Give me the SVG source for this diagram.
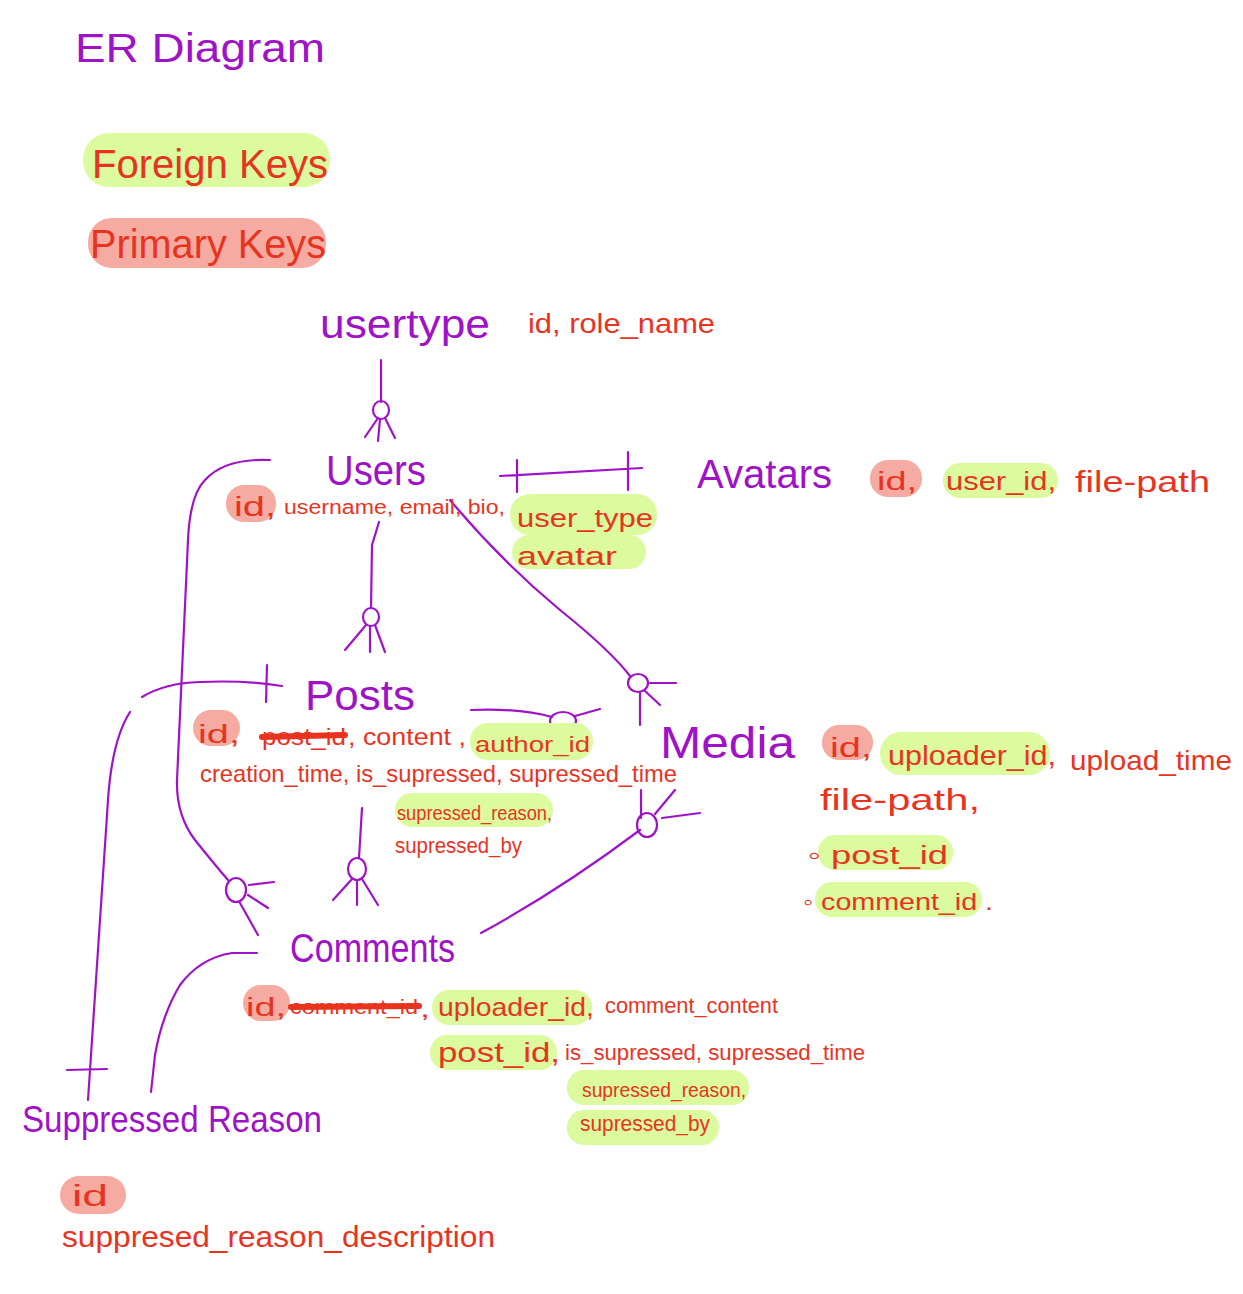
<svg xmlns="http://www.w3.org/2000/svg" width="1243" height="1294" viewBox="0 0 1243 1294">
<style>
.ent{font-family:"Liberation Sans",Arial,sans-serif;fill:#a012c8;}
.att{font-family:"Liberation Sans",Arial,sans-serif;fill:#e8341f;}
.fk{fill:#dbfb9e;}
.pk{fill:#f5aba1;}
.ln{fill:none;stroke:#a012c8;stroke-width:2.2;stroke-linecap:round;stroke-linejoin:round;}
.strike{fill:none;stroke:#e8341f;stroke-width:6;stroke-linecap:round;}
</style>
<rect width="1243" height="1294" fill="#ffffff"/>

<g id="title">
<text class="ent" x="75" y="62" font-size="40" textLength="250" lengthAdjust="spacingAndGlyphs">ER  Diagram</text>
</g>

<g id="legend">
<rect class="fk" x="83" y="133" width="247" height="54" rx="26"/>
<text class="att" x="92" y="178" font-size="40" textLength="236" lengthAdjust="spacingAndGlyphs">Foreign Keys</text>
<rect class="pk" x="88" y="218" width="238" height="50" rx="24"/>
<text class="att" x="90" y="258" font-size="40" textLength="236" lengthAdjust="spacingAndGlyphs">Primary Keys</text>
</g>

<g id="connectors">
<path class="ln" d="M381 360 L381 402"/>
<ellipse class="ln" cx="381" cy="410" rx="8" ry="9"/>
<path class="ln" d="M378 418 L365 437 M380 419 L378 441 M385 418 L395 438"/>
<path class="ln" d="M500 476 L642 468 M517 460 L517 492 M628 452 L628 490"/>
<path class="ln" d="M379 522 L372 545 L371 608"/>
<ellipse class="ln" cx="371" cy="617" rx="8" ry="9"/>
<path class="ln" d="M366 625 L345 650 M370 626 L370 652 M375 625 L385 652"/>
<path class="ln" d="M450 500 Q500 560 560 610 Q610 650 630 676"/>
<ellipse class="ln" cx="638" cy="683" rx="10" ry="9"/>
<path class="ln" d="M650 683 L676 683 M645 691 L660 705 M640 693 L640 725"/>
<path class="ln" d="M270 460 Q225 458 205 480 Q190 495 188 540 L177 780 Q176 815 195 840 Q215 865 228 880"/>
<ellipse class="ln" cx="236" cy="890" rx="10" ry="12"/>
<path class="ln" d="M249 885 L274 882 M248 895 L268 908 M240 903 L258 935"/>
<path class="ln" d="M142 697 Q165 683 200 682 Q245 680 282 686 M267 665 L266 702"/>
<path class="ln" d="M130 712 Q112 740 108 800 L88 1100 M67 1070 L107 1069"/>
<path class="ln" d="M471 710 Q520 708 552 717"/>
<ellipse class="ln" cx="563" cy="721" rx="13" ry="9"/>
<path class="ln" d="M575 716 L600 709 M573 726 L587 750 M580 748 L588 752"/>
<path class="ln" d="M362 808 L359 858"/>
<ellipse class="ln" cx="357" cy="869" rx="9" ry="11"/>
<path class="ln" d="M352 879 L333 900 M357 880 L357 905 M362 879 L378 905"/>
<path class="ln" d="M481 933 Q560 890 640 830"/>
<ellipse class="ln" cx="647" cy="825" rx="10" ry="12"/>
<path class="ln" d="M641 790 L641 818 M675 790 L655 814 M662 818 L700 813"/>
<path class="ln" d="M257 953 L232 953 Q200 958 180 985 Q162 1015 155 1055 L151 1092"/>
</g>

<g id="usertype">
<text class="ent" x="320" y="338" font-size="40" textLength="170" lengthAdjust="spacingAndGlyphs">usertype</text>
<text class="att" x="528" y="333" font-size="28" textLength="187" lengthAdjust="spacingAndGlyphs">id, role_name</text>
</g>

<g id="users">
<text class="ent" x="326" y="485" font-size="42" textLength="100" lengthAdjust="spacingAndGlyphs">Users</text>
<rect class="pk" x="226" y="485" width="50" height="37" rx="18"/>
<rect class="fk" x="510" y="494" width="147" height="41" rx="20"/>
<rect class="fk" x="512" y="535" width="134" height="34" rx="17"/>
<text class="att" x="234" y="516" font-size="28" textLength="42" lengthAdjust="spacingAndGlyphs">id,</text>
<text class="att" x="284" y="514" font-size="20" textLength="221" lengthAdjust="spacingAndGlyphs">username, email, bio,</text>
<text class="att" x="517" y="527" font-size="26" textLength="136" lengthAdjust="spacingAndGlyphs">user_type</text>
<text class="att" x="517" y="565" font-size="26" textLength="100" lengthAdjust="spacingAndGlyphs">avatar</text>
</g>

<g id="avatars">
<text class="ent" x="697" y="488" font-size="40" textLength="135" lengthAdjust="spacingAndGlyphs">Avatars</text>
<rect class="pk" x="870" y="460" width="52" height="37" rx="18"/>
<rect class="fk" x="943" y="463" width="115" height="35" rx="17"/>
<text class="att" x="877" y="490" font-size="26" textLength="40" lengthAdjust="spacingAndGlyphs">id,</text>
<text class="att" x="946" y="490" font-size="26" textLength="110" lengthAdjust="spacingAndGlyphs">user_id,</text>
<text class="att" x="1075" y="492" font-size="30" textLength="135" lengthAdjust="spacingAndGlyphs">file-path</text>
</g>

<g id="posts">
<text class="ent" x="305" y="710" font-size="42" textLength="110" lengthAdjust="spacingAndGlyphs">Posts</text>
<rect class="pk" x="193" y="710" width="47" height="36" rx="18"/>
<rect class="fk" x="470" y="723" width="123" height="37" rx="18"/>
<rect class="fk" x="395" y="793" width="158" height="34" rx="17"/>
<text class="att" x="198" y="743" font-size="26" textLength="42" lengthAdjust="spacingAndGlyphs">id,</text>
<text class="att" x="262" y="745" font-size="24" textLength="84" lengthAdjust="spacingAndGlyphs">post_id</text>
<path class="strike" d="M262 737 L345 735"/>
<text class="att" x="348" y="745" font-size="24" textLength="118" lengthAdjust="spacingAndGlyphs">, content ,</text>
<text class="att" x="475" y="752" font-size="22" textLength="115" lengthAdjust="spacingAndGlyphs">author_id</text>
<text class="att" x="200" y="782" font-size="24" textLength="477" lengthAdjust="spacingAndGlyphs">creation_time, is_supressed, supressed_time</text>
<text class="att" x="397" y="820" font-size="21" textLength="155" lengthAdjust="spacingAndGlyphs">supressed_reason,</text>
<text class="att" x="395" y="853" font-size="22" textLength="127" lengthAdjust="spacingAndGlyphs">supressed_by</text>
</g>

<g id="media">
<text class="ent" x="660" y="758" font-size="44" textLength="135" lengthAdjust="spacingAndGlyphs">Media</text>
<rect class="pk" x="822" y="725" width="51" height="35" rx="17"/>
<rect class="fk" x="880" y="732" width="170" height="43" rx="21"/>
<rect class="fk" x="818" y="835" width="135" height="35" rx="17"/>
<rect class="fk" x="815" y="882" width="167" height="35" rx="17"/>
<text class="att" x="830" y="757" font-size="28" textLength="42" lengthAdjust="spacingAndGlyphs">id,</text>
<text class="att" x="888" y="765" font-size="28" textLength="168" lengthAdjust="spacingAndGlyphs">uploader_id,</text>
<text class="att" x="1070" y="770" font-size="28" textLength="162" lengthAdjust="spacingAndGlyphs">upload_time</text>
<text class="att" x="820" y="810" font-size="30" textLength="160" lengthAdjust="spacingAndGlyphs">file-path,</text>
<text class="att" x="808" y="864" font-size="26" textLength="140" lengthAdjust="spacingAndGlyphs">◦ post_id</text>
<text class="att" x="803" y="910" font-size="24" textLength="190" lengthAdjust="spacingAndGlyphs">◦ comment_id .</text>
</g>

<g id="comments">
<text class="ent" x="290" y="962" font-size="40" textLength="165" lengthAdjust="spacingAndGlyphs">Comments</text>
<rect class="pk" x="243" y="985" width="47" height="36" rx="18"/>
<rect class="fk" x="432" y="990" width="160" height="35" rx="17"/>
<rect class="fk" x="430" y="1035" width="127" height="35" rx="17"/>
<rect class="fk" x="567" y="1070" width="182" height="35" rx="17"/>
<rect class="fk" x="567" y="1110" width="152" height="35" rx="17"/>
<text class="att" x="246" y="1016" font-size="26" textLength="40" lengthAdjust="spacingAndGlyphs">id,</text>
<text class="att" x="290" y="1014" font-size="20" textLength="128" lengthAdjust="spacingAndGlyphs">comment_id</text>
<path class="strike" d="M291 1007 L419 1006"/>
<text class="att" x="420" y="1017" font-size="24" textLength="10" lengthAdjust="spacingAndGlyphs">,</text>
<text class="att" x="438" y="1016" font-size="26" textLength="156" lengthAdjust="spacingAndGlyphs">uploader_id,</text>
<text class="att" x="605" y="1013" font-size="22" textLength="173" lengthAdjust="spacingAndGlyphs">comment_content</text>
<text class="att" x="438" y="1062" font-size="28" textLength="122" lengthAdjust="spacingAndGlyphs">post_id,</text>
<text class="att" x="565" y="1060" font-size="22" textLength="300" lengthAdjust="spacingAndGlyphs">is_supressed, supressed_time</text>
<text class="att" x="582" y="1097" font-size="21" textLength="164" lengthAdjust="spacingAndGlyphs">supressed_reason,</text>
<text class="att" x="580" y="1131" font-size="22" textLength="130" lengthAdjust="spacingAndGlyphs">supressed_by</text>
</g>

<g id="suppressed_reason">
<text class="ent" x="22" y="1132" font-size="36" textLength="300" lengthAdjust="spacingAndGlyphs">Suppressed  Reason</text>
<rect class="pk" x="60" y="1176" width="66" height="38" rx="19"/>
<text class="att" x="72" y="1206" font-size="30" textLength="36" lengthAdjust="spacingAndGlyphs">id</text>
<text class="att" x="62" y="1247" font-size="30" textLength="433" lengthAdjust="spacingAndGlyphs">suppresed_reason_description</text>
</g>
</svg>
